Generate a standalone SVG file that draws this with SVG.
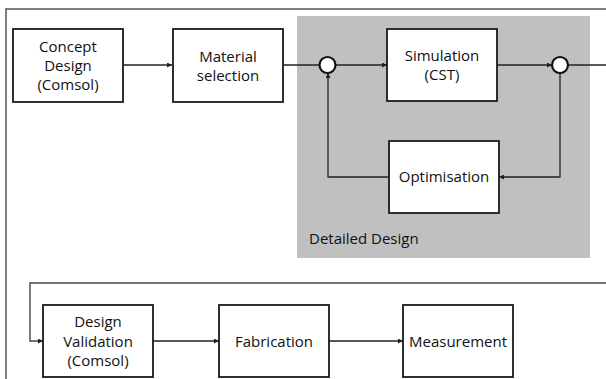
<svg xmlns="http://www.w3.org/2000/svg" width="606" height="379" viewBox="0 0 606 379">
<defs>
<style>
.box{fill:#fff;stroke:#1a1a1a;stroke-width:1.8}
.t{font-family:"Open Sans","Liberation Sans",sans-serif;font-size:15px;fill:#111;text-anchor:middle}
.c{fill:none;stroke:#222;stroke-width:1.3}
.frame{fill:none;stroke:#555;stroke-width:1.5}
.sum{fill:#fff;stroke:#111;stroke-width:2.2}
</style>
<marker id="ah" markerUnits="userSpaceOnUse" markerWidth="5" markerHeight="5" refX="5" refY="2.5" orient="auto">
<path d="M0,0 L5,2.5 L0,5 z" fill="#222"/>
</marker>
</defs>
<rect width="606" height="379" fill="#fff"/>
<path class="frame" d="M606,9 H6 V379"/>
<g id="detailed-design">
<rect x="297" y="16" width="293" height="242" fill="#c0c0c0"/>
<text x="309" y="244" class="t" style="text-anchor:start">Detailed Design</text>
</g>
<g id="connectors">
<path class="c" d="M123,65 H172" marker-end="url(#ah)"/>
<path class="c" d="M283,65 H319.5"/>
<path class="c" d="M335.5,65 H387" marker-end="url(#ah)"/>
<path class="c" d="M497,65 H552" marker-end="url(#ah)"/>
<path class="c" d="M568,65 H606"/>
<path class="c" d="M560,73 V177 H499" marker-end="url(#ah)"/>
<path class="c" d="M389,177 H328 V73" marker-end="url(#ah)"/>
<path class="c" style="stroke:#444;stroke-width:1.4" d="M606,283 H30 V341 H43" marker-end="url(#ah)"/>
<path class="c" d="M153,341 H219" marker-end="url(#ah)"/>
<path class="c" d="M329,341 H403" marker-end="url(#ah)"/>
</g>
<g id="sum1"><circle class="sum" cx="327.5" cy="65" r="8"/></g>
<g id="sum2"><circle class="sum" cx="560" cy="65" r="8"/></g>
<g id="concept-design">
<rect class="box" x="13" y="29" width="110" height="73"/>
<text class="t" x="68" y="52">Concept</text>
<text class="t" x="68" y="71">Design</text>
<text class="t" x="68" y="90">(Comsol)</text>
</g>
<g id="material-selection">
<rect class="box" x="173" y="29" width="110" height="73"/>
<text class="t" x="228" y="61.5">Material</text>
<text class="t" x="228" y="80.5">selection</text>
</g>
<g id="simulation">
<rect class="box" x="387" y="29" width="110" height="72"/>
<text class="t" x="442" y="61">Simulation</text>
<text class="t" x="442" y="80">(CST)</text>
</g>
<g id="optimisation">
<rect class="box" x="389" y="141" width="110" height="72"/>
<text class="t" x="444" y="182">Optimisation</text>
</g>
<g id="design-validation">
<rect class="box" x="43" y="305" width="110" height="72"/>
<text class="t" x="98" y="327">Design</text>
<text class="t" x="98" y="346.5">Validation</text>
<text class="t" x="98" y="366">(Comsol)</text>
</g>
<g id="fabrication">
<rect class="box" x="219" y="305" width="110" height="72"/>
<text class="t" x="274" y="346.5">Fabrication</text>
</g>
<g id="measurement">
<rect class="box" x="403" y="305" width="110" height="72"/>
<text class="t" x="458" y="346.5">Measurement</text>
</g>
</svg>
